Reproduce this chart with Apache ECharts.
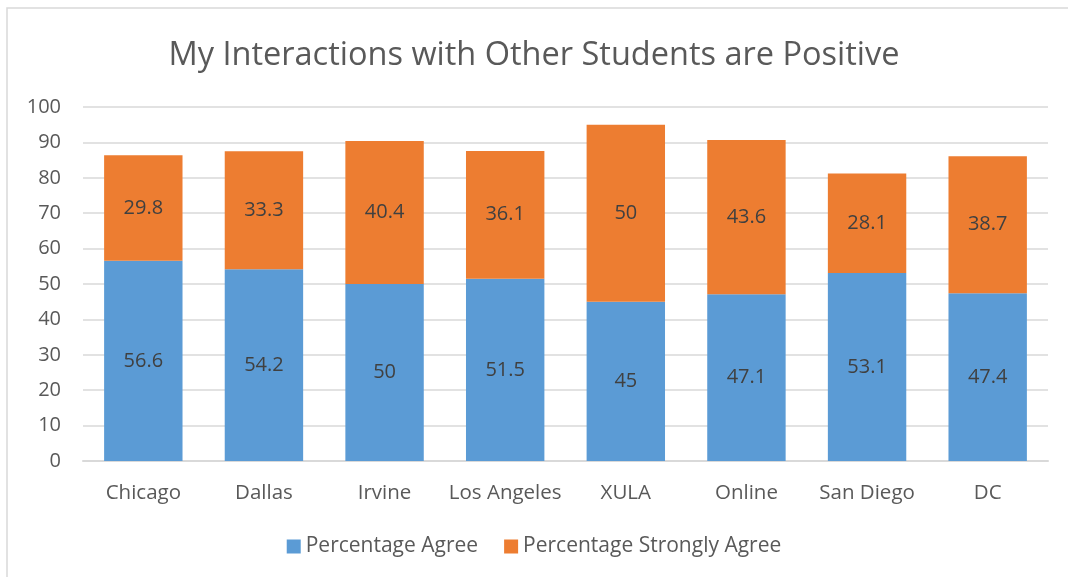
<!DOCTYPE html>
<html>
<head>
<meta charset="utf-8">
<script src="https://cdn.jsdelivr.net/npm/echarts@6/dist/echarts.min.js"></script>
<style>
  html, body { margin: 0; padding: 0; background: #fff; }
  #chart { width: 1068px; height: 577px; }
</style>
</head>
<body>
<div id="chart"></div>
<script>
const campuses = ['Chicago', 'Dallas', 'Irvine', 'Los Angeles', 'XULA', 'Online', 'San Diego', 'DC'];
const agreeValues = [56.6, 54.2, 50, 51.5, 45, 47.1, 53.1, 47.4];
const stronglyAgreeValues = [29.8, 33.3, 40.4, 36.1, 50, 43.6, 28.1, 38.7];
const seriesNames = ['Percentage Agree', 'Percentage Strongly Agree'];

const textColor = '#595959';
const fontFamily = '"Open Sans", sans-serif';

const chart = echarts.init(document.getElementById('chart'));
const option = {
  backgroundColor: '#fff',
  animation: false,
  graphic: [{
    type: 'rect',
    shape: { x: 7, y: 8, width: 1100, height: 600 },
    style: { fill: 'none', stroke: '#d9d9d9', lineWidth: 1.5 },
    silent: true,
    z: -1,
  }],
  title: {
    text: 'My Interactions with Other Students are Positive',
    left: 'center',
    top: 34,
    textStyle: { color: textColor, fontSize: 32.5, fontWeight: 'normal', fontFamily },
  },
  legend: {
    bottom: 15,
    left: 'center',
    icon: 'rect',
    itemWidth: 14,
    itemHeight: 14,
    itemGap: 26,
    textStyle: { color: textColor, fontSize: 21, fontFamily },
    data: seriesNames,
  },
  grid: { left: 83, right: 20, top: 107, bottom: 116 },
  xAxis: {
    type: 'category',
    data: campuses,
    axisLine: { lineStyle: { color: '#d9d9d9', width: 2 } },
    axisTick: { show: false },
    axisLabel: { color: textColor, fontSize: 20.5, fontFamily, margin: 22, interval: 0 },
  },
  yAxis: {
    type: 'value',
    min: 0,
    max: 100,
    interval: 10,
    axisLine: { show: false },
    axisTick: { show: false },
    axisLabel: { color: textColor, fontSize: 20, fontFamily, margin: 22 },
    splitLine: { lineStyle: { color: '#d9d9d9', width: 1.5 } },
  },
  series: [{
    name: seriesNames[0],
    type: 'bar',
    stack: 'total',
    barCategoryGap: '35%',
    data: agreeValues,
    itemStyle: { color: '#5b9bd5' },
    label: { show: true, position: 'inside', color: '#404040', fontSize: 20, fontFamily },
  }, {
    name: seriesNames[1],
    type: 'bar',
    stack: 'total',
    barCategoryGap: '35%',
    data: stronglyAgreeValues,
    itemStyle: { color: '#ed7d31' },
    label: { show: true, position: 'inside', color: '#404040', fontSize: 20, fontFamily },
  }],
};
chart.setOption(option);
</script>
</body>
</html>
